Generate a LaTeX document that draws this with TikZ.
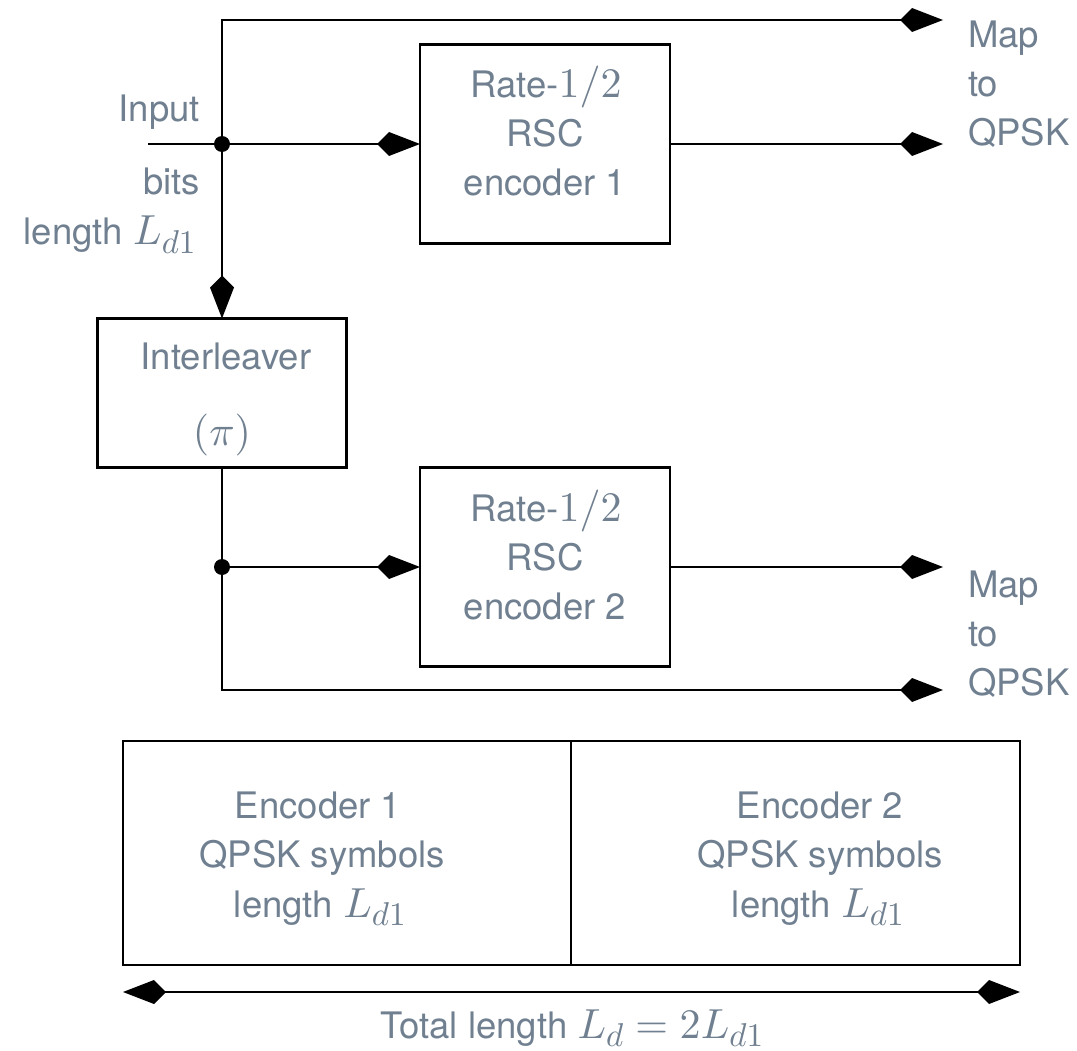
\documentclass[tikz,border=0pt]{standalone}
\usepackage[no-math]{fontspec}
\setmainfont{TeX Gyre Heros}
\DeclareFontShape{OML}{cmm}{m}{it}{<->cmmi10}{}
\DeclareFontShape{OT1}{cmr}{m}{n}{<->cmr10}{}
\DeclareFontShape{OMS}{cmsy}{m}{n}{<->cmsy10}{}
\DeclareMathSizes{36.5}{42}{33}{24}
\usetikzlibrary{arrows.meta}
\definecolor{txt}{HTML}{708090}
\begin{document}
\begin{tikzpicture}[x=1pt,y=-1pt,
  every node/.style={inner sep=0pt,outer sep=0pt},
  lbl/.style={text=txt,font=\fontsize{36.5}{49}\selectfont,anchor=base},
  lbll/.style={lbl,anchor=base west},
  lblr/.style={lbl,anchor=base east},
  blk/.style={draw=black,line width=2.5pt,minimum width=#1},
  arr/.style={line width=2.5pt,-{Kite[length=43pt,width=24pt,inset=12pt]}},
  arrb/.style={line width=2.5pt,{Kite[length=43pt,width=24pt,inset=12pt]}-{Kite[length=43pt,width=24pt,inset=12pt]}},
  dot/.style={circle,fill=black,minimum size=16pt}]
\useasboundingbox (0,0) rectangle (1077,1051);
% blocks
\node[blk=250pt,minimum height=199pt] (b1) at (545,144) {};
\node[blk=250pt,minimum height=199pt] (b2) at (545,567) {};
\node[blk=249pt,minimum height=149pt] (il) at (222,393) {};
\node[blk=448pt,minimum height=224pt] (e1) at (347,853) {};
\node[blk=449pt,minimum height=224pt] (e2) at (795.5,853) {};
% texts in encoder 1
\node[lbl] (t1a) at (546,98) {Rate-$1/2$};
\node[lbl] (t1b) at (545,147) {RSC};
\node[lbl] (t1c) at (545,196) {encoder 1};
% texts in encoder 2
\node[lbl] (t2a) at (546,521) {Rate-$1/2$};
\node[lbl] (t2b) at (545,570) {RSC};
\node[lbl] (t2c) at (545,619) {encoder 2};
% interleaver
\node[lbl] (ti) at (226,369) {Interleaver};
\node[lbl] (tp) at (222,445) {$(\pi)$};
% bottom frame
\node[lbl] (e1a) at (318,818) {Encoder 1};
\node[lbl] (e1b) at (322,867) {QPSK symbols};
\node[lbl] (e1c) at (320,917) {length $L_{d1}$};
\node[lbl] (e2a) at (820,818) {Encoder 2};
\node[lbl] (e2b) at (820,867) {QPSK symbols};
\node[lbl] (e2c) at (818,917) {length $L_{d1}$};
% map to QPSK
\node[lbll] (m1a) at (968,48) {Map};
\node[lbll] (m1b) at (968,97) {to};
\node[lbll] (m1c) at (968,146) {QPSK};
\node[lbll] (m2a) at (968,597) {Map};
\node[lbll] (m2b) at (968,646) {to};
\node[lbll] (m2c) at (968,695) {QPSK};
% input labels
\node[lblr] (ip) at (200,122) {Input};
\node[lblr] (bt) at (200,195) {bits};
\node[lblr] (ln) at (196,245) {length $L_{d1}$};
\node[lbl] (tot) at (572,1038) {Total length $L_d=2L_{d1}$};
% coordinates
\coordinate (in) at (148,144);
\coordinate (d1) at (222,144);
\coordinate (d2) at (222,567);
\coordinate (o0) at (943,20);
\coordinate (o1) at (943,144);
\coordinate (o3) at (943,567);
\coordinate (o4) at (943,690);
\coordinate (la) at (123,992);
\coordinate (ra) at (1020,992);
% connectors
\draw[arr] (d1) |- (o0);
\draw[arr] (in) -- (b1.west);
\draw[arr] (d1) -- (il.north);
\draw[arr] (b1.east) -- (o1);
\draw[line width=2.5pt] (il.south) -- (d2);
\draw[arr] (d2) -- (b2.west);
\draw[arr] (d2) |- (o4);
\draw[arr] (b2.east) -- (o3);
\draw[line width=2.5pt] (e1.north east) -- (e1.south east);
\draw[arrb] (la) -- (ra);
\node[dot] (n1) at (d1) {};
\node[dot] (n2) at (d2) {};
\end{tikzpicture}
\end{document}
